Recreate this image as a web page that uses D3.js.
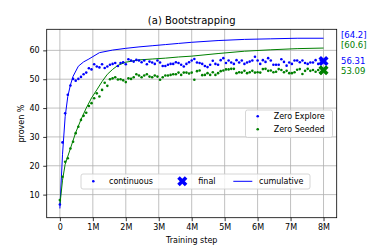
<!DOCTYPE html>
<html>
<head>
<meta charset="utf-8">
<script src="https://cdn.jsdelivr.net/npm/d3@7"></script>
<style>
  body { margin: 0; background: #fff; }
  text { font-family: "DejaVu Sans", sans-serif; }
</style>
</head>
<body>
<div class="chart"></div>
<script>

// Data
var stepCount = 101;          // checkpoints, every 80k steps
var stepSize = 80000;
var steps = d3.range(stepCount).map(function(i) { return i * stepSize; });

var exploreValues = [6.6, 28.1, 38.2, 44.6, 47.8, 50.1, 49.5, 50.1, 50.8, 51.7, 52.3, 53.8, 53.4, 55.2, 54.4, 54.1, 55.2, 53.9, 54.4, 55.0, 55.3, 55.6, 54.6, 55.6, 55.9, 55.2,
  56.9, 56.5, 56.1, 56.7, 56.5, 55.9, 56.5, 55.2, 56.1, 55.8, 55.3, 56.5, 55.8, 54.6, 54.6, 55.0, 55.3, 55.3, 55.9, 55.6, 55.0, 54.4, 55.3,
  55.9, 56.5, 57.0, 55.8, 55.6, 55.3, 54.6, 54.2, 55.0, 56.4, 55.3, 55.0, 56.6, 57.3, 55.6, 56.5, 55.8, 55.3, 56.6, 55.8, 56.5, 55.3, 55.8, 56.1, 56.5, 57.8,
  56.5, 55.3, 56.6, 56.0, 57.3, 56.5, 55.0, 55.0, 55.0, 56.9, 56.0, 54.7, 55.8, 55.3, 56.5, 56.5, 55.9, 56.5, 55.6, 55.3, 55.8, 55.8, 56.6, 55.3, 56.5, 56.3];

var seededValues = [8.1, 16.2, 21.4, 22.6, 26.0, 28.3, 31.3, 33.5, 35.9, 37.3, 38.4, 40.7, 41.7, 43.4, 45.1, 44.0, 46.3, 48.8, 47.7, 50.0, 50.3, 50.7, 49.9, 50.0, 49.6, 49.0, 50.3, 50.1, 50.7,
  51.7, 51.3, 50.7, 51.3, 51.7, 50.9, 50.7, 51.3, 50.9, 49.8, 50.7, 51.3, 51.3, 51.5, 51.7, 51.7, 52.3, 51.5, 52.3, 52.3,
  52.0, 52.3, 49.8, 52.8, 53.0, 51.4, 51.5, 52.1, 51.5, 52.4, 51.5, 52.1, 52.8, 53.0, 53.4, 53.4, 53.6, 53.6, 52.1, 52.4, 52.3, 52.9, 52.1, 52.4, 52.9, 52.3,
  52.4, 52.3, 53.5, 53.6, 52.9, 53.0, 52.4, 52.6, 53.5, 53.2, 52.4, 52.9, 52.1, 52.1, 52.4, 53.3, 53.5, 51.8, 52.9, 53.6, 52.9, 53.2, 52.6, 53.2, 52.1, 53.1];

// cumulative curves (step in millions, %)
var exploreCumSteps = [0, 0.08, 0.16, 0.24, 0.32, 0.4, 0.56, 0.72, 0.88, 1.2, 1.6, 2.0, 2.4, 2.8, 3.2, 3.6, 4.0, 4.8, 5.6, 6.4, 7.2, 8.0];
var exploreCumValues = [5.2, 24, 37, 44, 48, 51, 54.5, 56, 57, 59.2, 60.1, 60.7, 61.2, 61.6, 62.0, 62.4, 62.8, 63.4, 63.8, 64.0, 64.2, 64.2];
var seededCumSteps = [0, 0.08, 0.16, 0.32, 0.48, 0.64, 0.8, 0.96, 1.12, 1.28, 1.44, 1.6, 1.76, 2.0, 2.4, 2.8, 3.2, 3.6, 4.0, 4.8, 5.6, 6.4, 7.2, 8.0];
var seededCumValues = [6.4, 15, 20.5, 26, 31.5, 36, 40, 43.5, 46.3, 49.2, 51.7, 53.4, 54.8, 55.9, 56.7, 57.0, 57.3, 57.7, 58.0, 58.9, 59.7, 60.2, 60.6, 60.8];

var seriesNames = ["Zero Explore", "Zero Seeded"];
var seriesColors = ["#0000ff", "#008000"];
var finalValues = [56.31, 53.09];
var cumulativeLabels = ["[64.2]", "[60.6]"];
var xTicks = [0, 1e6, 2e6, 3e6, 4e6, 5e6, 6e6, 7e6, 8e6];
var yTicks = [10, 20, 30, 40, 50, 60];

// Configuration
var width = 374;
var height = 249;
var margin = {top: 29.3, right: 37.3, bottom: 31.3, left: 46.7};
var innerW = width - margin.left - margin.right;
var innerH = height - margin.top - margin.bottom;

var svg = d3.select(".chart").append("svg")
    .attr("width", width)
    .attr("height", height);

var g = svg.append("g")
    .attr("transform", "translate(" + margin.left + "," + margin.top + ")");

var x = d3.scaleLinear().domain([-0.4e6, 8.4e6]).range([0, innerW]);
var y = d3.scaleLinear().domain([2.0, 67.3]).range([innerH, 0]);

// grid
g.append("g").selectAll("line")
    .data(xTicks).enter().append("line")
    .attr("x1", d => x(d)).attr("x2", d => x(d))
    .attr("y1", 0).attr("y2", innerH)
    .attr("stroke", "#b0b0b0").attr("stroke-width", 0.8);
g.append("g").selectAll("line")
    .data(yTicks).enter().append("line")
    .attr("x1", 0).attr("x2", innerW)
    .attr("y1", d => y(d)).attr("y2", d => y(d))
    .attr("stroke", "#b0b0b0").attr("stroke-width", 0.8);

// axes
var xAxis = d3.axisBottom(x).tickValues(xTicks).tickSizeOuter(0).tickSize(3.5).tickPadding(3.5)
    .tickFormat(d => d === 0 ? "0" : (d / 1e6) + "M");
var yAxis = d3.axisLeft(y).tickValues(yTicks).tickSizeOuter(0).tickSize(3.5).tickPadding(3.5);

var gx = g.append("g").attr("transform", "translate(0," + innerH + ")").call(xAxis);
var gy = g.append("g").call(yAxis);
[gx, gy].forEach(function(a) {
  a.select(".domain").remove();
  a.selectAll("text").style("font-family", "DejaVu Sans").style("font-size", "8px").attr("fill", "#000");
  a.selectAll("line").attr("stroke", "#000").attr("stroke-width", 0.8);
});

// frame
g.append("rect")
    .attr("width", innerW).attr("height", innerH)
    .attr("fill", "none").attr("stroke", "#000").attr("stroke-width", 0.8);

// cumulative lines
var line = d3.line().x(d => x(d[0] * 1e6)).y(d => y(d[1]));
var cumData = [
  d3.zip(exploreCumSteps, exploreCumValues),
  d3.zip(seededCumSteps, seededCumValues)
];
g.selectAll("path.cum")
    .data(cumData).enter().append("path")
    .attr("class", "cum")
    .attr("d", line)
    .attr("fill", "none")
    .attr("stroke", (d, i) => seriesColors[i])
    .attr("stroke-width", 1);

// continuous dots
var dotData = [exploreValues, seededValues];
dotData.forEach(function(vals, k) {
  g.append("g").selectAll("circle")
      .data(vals).enter().append("circle")
      .attr("cx", (d, i) => x(steps[i]))
      .attr("cy", d => y(d))
      .attr("r", 1.3)
      .attr("fill", seriesColors[k]);
});

// final markers (filled X)
var xMark = d3.symbol().type(d3.symbolCross).size(64);
g.selectAll("path.final")
    .data(finalValues).enter().append("path")
    .attr("class", "final")
    .attr("d", xMark)
    .attr("transform", d => "translate(" + x(8e6) + "," + y(d) + ") rotate(45)")
    .attr("fill", (d, i) => seriesColors[i]);

// labels on the right
svg.selectAll("text.cumlab")
    .data(cumulativeLabels).enter().append("text")
    .attr("x", 341).attr("y", (d, i) => 38 + i * 10)
    .style("font-size", "8.5px")
    .attr("fill", (d, i) => seriesColors[i])
    .text(d => d);
svg.selectAll("text.finlab")
    .data(finalValues).enter().append("text")
    .attr("x", 341).attr("y", (d, i) => 63.5 + i * 10)
    .style("font-size", "8.5px")
    .attr("fill", (d, i) => seriesColors[i])
    .text(d => d.toFixed(2));

// title and axis labels
svg.append("text")
    .attr("x", margin.left + innerW / 2).attr("y", 23.5)
    .attr("text-anchor", "middle").style("font-size", "10px")
    .text("(a) Bootstrapping");
svg.append("text")
    .attr("x", margin.left + innerW / 2).attr("y", 243)
    .attr("text-anchor", "middle").style("font-size", "8px")
    .text("Training step");
svg.append("text")
    .attr("transform", "translate(24," + (margin.top + innerH / 2) + ") rotate(-90)")
    .attr("text-anchor", "middle").style("font-size", "8px")
    .text("proven %");

// legend: series
var leg1 = svg.append("g");
leg1.append("rect")
    .attr("x", 245.5).attr("y", 110).attr("width", 87).attr("height", 27.5)
    .attr("rx", 2).attr("fill", "#fff").attr("fill-opacity", 0.8)
    .attr("stroke", "#ccc").attr("stroke-width", 0.8);
seriesNames.forEach(function(name, i) {
  leg1.append("circle").attr("cx", 257.7).attr("cy", 116.3 + i * 13).attr("r", 1.3).attr("fill", seriesColors[i]);
  leg1.append("text").attr("x", 273.7).attr("y", 119.2 + i * 13).style("font-size", "8px").text(name);
});

// legend: mark types
var leg2 = svg.append("g");
leg2.append("rect")
    .attr("x", 81).attr("y", 174).attr("width", 229).attr("height", 15)
    .attr("rx", 2).attr("fill", "#fff").attr("fill-opacity", 0.8)
    .attr("stroke", "#ccc").attr("stroke-width", 0.8);
leg2.append("circle").attr("cx", 93.3).attr("cy", 181.3).attr("r", 1.3).attr("fill", seriesColors[0]);
leg2.append("text").attr("x", 109).attr("y", 184.2).style("font-size", "8px").text("continuous");
leg2.append("path").attr("d", xMark).attr("transform", "translate(182.3,181.3) rotate(45)").attr("fill", seriesColors[0]);
leg2.append("text").attr("x", 198.3).attr("y", 184.2).style("font-size", "8px").text("final");
leg2.append("line").attr("x1", 233.3).attr("x2", 252.3).attr("y1", 181.3).attr("y2", 181.3)
    .attr("stroke", seriesColors[0]).attr("stroke-width", 1);
leg2.append("text").attr("x", 259).attr("y", 184.2).style("font-size", "8px").text("cumulative");

</script>
</body>
</html>
